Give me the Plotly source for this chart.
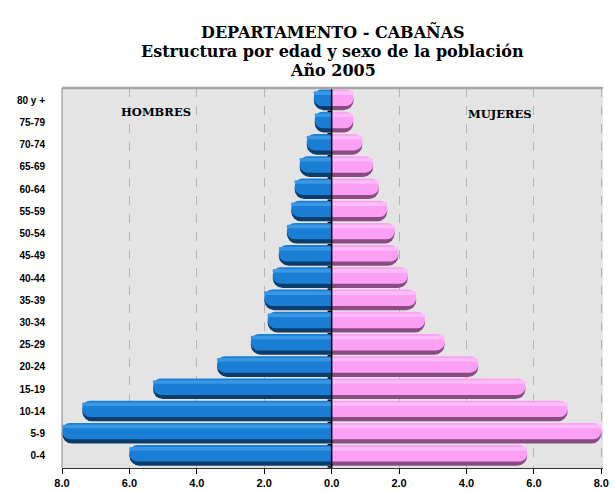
import plotly.graph_objects as go

# Age groups, bottom to top
grupos = ["0-4", "5-9", "10-14", "15-19", "20-24", "25-29", "30-34", "35-39",
          "40-44", "45-49", "50-54", "55-59", "60-64", "65-69", "70-74", "75-79", "80 y +"]

# Percent of population by sex
hombres = [6.0, 8.0, 7.4, 5.3, 3.4, 2.4, 1.9, 2.0, 1.75, 1.57, 1.33, 1.2, 1.1, 0.95, 0.74, 0.5, 0.53]
mujeres = [5.8, 8.0, 7.0, 5.75, 4.35, 3.35, 2.77, 2.51, 2.26, 1.98, 1.87, 1.65, 1.4, 1.23, 0.91, 0.64, 0.65]

tick_vals = [-8, -6, -4, -2, 0, 2, 4, 6, 8]
tick_text = ["8.0", "6.0", "4.0", "2.0", "0.0", "2.0", "4.0", "6.0", "8.0"]

neg_h = [-v for v in hombres]

fig = go.Figure()

# each series drawn as layered bands to give a cylinder look:
# dark body, main colour band, light highlight strip near the top
layers = [
    # (width, offset, male colour, female colour)
    (0.90, -0.45, "#0a3c6c", "#8a4a82"),
    (0.74, -0.26, "#1a7fd4", "#fca0f6"),
    (0.16, 0.24, "#3a97e4", "#ffbcfb"),
]
for w, off, cm, cf in layers:
    fig.add_trace(go.Bar(y=grupos, x=neg_h, orientation="h", width=w, offset=off,
                         marker=dict(color=cm, line=dict(width=0), cornerradius="50%"),
                         showlegend=False, hoverinfo="skip"))
    fig.add_trace(go.Bar(y=grupos, x=mujeres, orientation="h", width=w, offset=off,
                         marker=dict(color=cf, line=dict(width=0), cornerradius="50%"),
                         showlegend=False, hoverinfo="skip"))

shapes = []
# central axis with small ticks at group boundaries
shapes.append(dict(type="line", xref="x", yref="paper", x0=0, x1=0, y0=0, y1=1,
                   line=dict(color="black", width=1.5), layer="above"))
for i in range(len(grupos)):
    shapes.append(dict(type="line", xref="x", yref="y", x0=-0.12, x1=0,
                       y0=i - 0.5, y1=i - 0.5, line=dict(color="black", width=1.5),
                       layer="above"))
# plot frame: heavier grey top, grey left side
shapes.append(dict(type="line", xref="paper", yref="paper", x0=0, x1=1, y0=1, y1=1,
                   line=dict(color="#a4a4a4", width=2.5), layer="above"))
shapes.append(dict(type="line", xref="paper", yref="paper", x0=0, x1=0, y0=0, y1=1,
                   line=dict(color="#9a9a9a", width=1.2), layer="above"))

title_font = dict(family="DejaVu Serif", size=16, color="black")
annotations = [
    dict(text="<b>DEPARTAMENTO - CABAÑAS</b>", x=0.5, y=31, font=title_font),
    dict(text="<b>Estructura por edad y sexo de la población</b>", x=0.5, y=51, font=title_font),
    dict(text="<b>Año 2005</b>", x=0.5, y=71, font=title_font),
]
for a in annotations:
    a.update(xref="paper", yref="paper", showarrow=False, xanchor="center", yanchor="middle",
             y=1 + (88 - a["y"]) / 380.0)

label_font = dict(family="DejaVu Serif", size=11.5, color="black")
annotations.append(dict(text="<b>HOMBRES</b>", x=-5.2, y=15.45, xref="x", yref="y",
                        showarrow=False, font=label_font))
annotations.append(dict(text="<b>MUJERES</b>", x=5.0, y=15.4, xref="x", yref="y",
                        showarrow=False, font=label_font))

fig.update_layout(
    width=614, height=492,
    margin=dict(l=62, r=11, t=88, b=24),
    barmode="overlay",
    bargap=0.1,
    paper_bgcolor="white",
    plot_bgcolor="#e4e4e4",
    shapes=shapes,
    annotations=annotations,
    font=dict(family="Arial, Liberation Sans", color="black"),
    xaxis=dict(range=[-8, 8.05], tickvals=tick_vals, ticktext=tick_text, automargin=False,
               tickfont=dict(family="Liberation Sans", size=11, color="black", weight="bold"),
               showgrid=True, gridcolor="#b4b4b4", griddash="dash", gridwidth=1,
               zeroline=False, showline=True, linecolor="#333333", linewidth=1.2,
               ticks="outside", ticklen=5, tickcolor="black", tickwidth=1.2),
    yaxis=dict(categoryorder="array", categoryarray=grupos, range=[-0.55, 16.55],
               automargin=False,
               tickfont=dict(family="Liberation Sans", size=10, color="black", weight="bold"),
               showgrid=False, zeroline=False, ticks="outside", ticklen=14,
               tickcolor="rgba(0,0,0,0)"),
)

fig.write_html("out.html")
